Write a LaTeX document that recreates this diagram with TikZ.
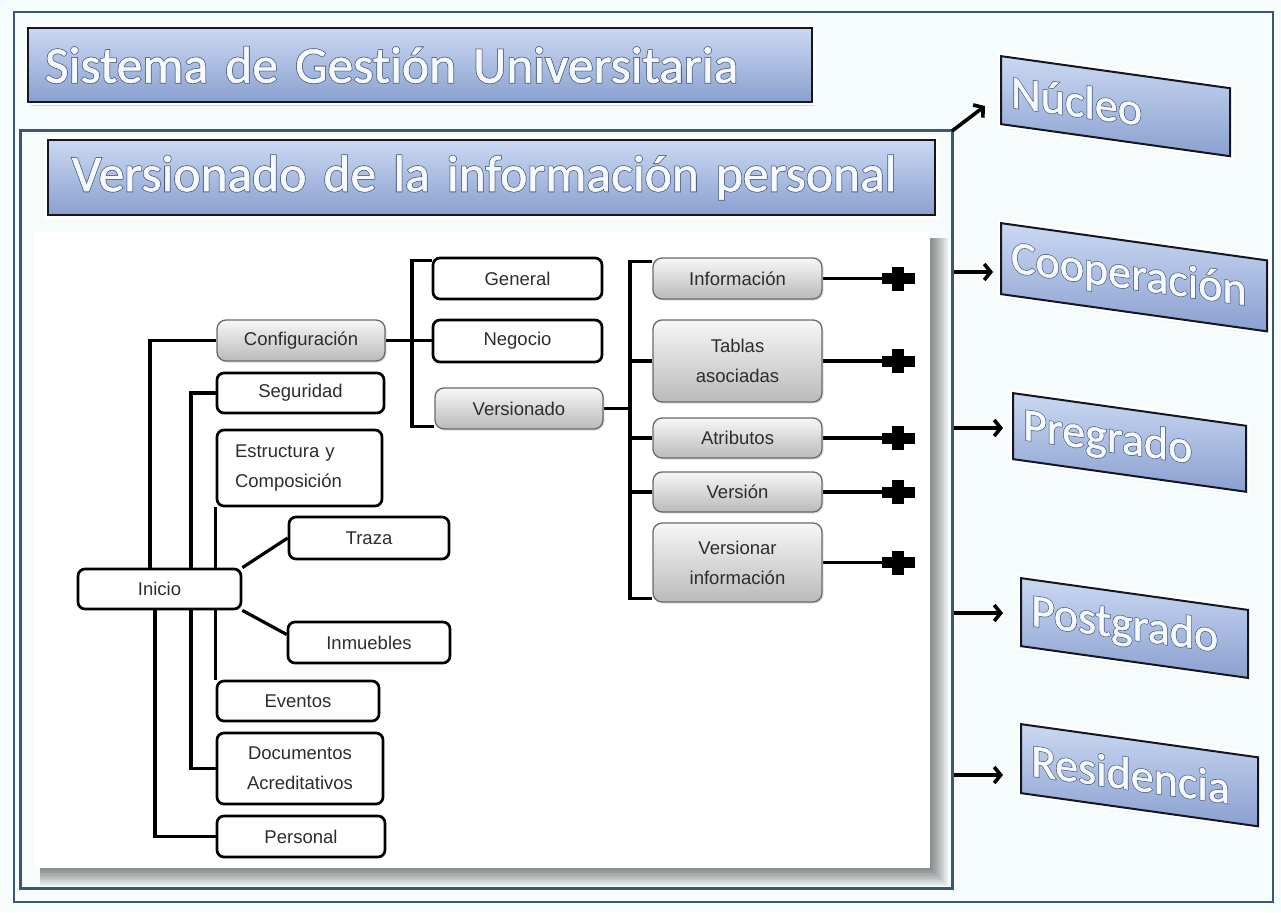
\documentclass[tikz,border=0pt]{standalone}
\usepackage{fontspec}
\setmainfont{Liberation Sans}
\newfontfamily\waO[FakeBold=4,Ligatures=NoCommon]{Carlito}
\newfontfamily\waI[FakeBold=1,Ligatures=NoCommon]{Carlito}
\usetikzlibrary{shadows,arrows.meta,calc}
\definecolor{framec}{RGB}{58,86,120}
\definecolor{pagebg}{RGB}{246,251,251}
\definecolor{outl}{RGB}{78,95,128}
\definecolor{wfill}{RGB}{246,249,254}
\definecolor{btop}{RGB}{202,216,242}
\definecolor{bbot}{RGB}{138,160,208}
\definecolor{bedge}{RGB}{20,22,34}
\definecolor{tgray}{RGB}{45,45,45}
\definecolor{gtop}{RGB}{247,247,247}
\definecolor{gbot}{RGB}{186,186,186}
\definecolor{gedge}{RGB}{105,105,105}
\newcommand\outlined[1]{\leavevmode\rlap{\waO\color{outl}#1}{\waI\color{wfill}#1}}
\pgfdeclarelayer{bg}
\pgfdeclarelayer{conn}
\pgfsetlayers{bg,conn,main}
\begin{document}
\begin{tikzpicture}[x=1pt,y=-1pt,
  sz/.style 2 args={minimum width=#1pt,minimum height=#2pt},
  tree/.style={font=\fontsize{18.5}{30}\selectfont, text=tgray, align=center, inner sep=0pt},
  wbox/.style={tree, draw=black, line width=2.7pt, rounded corners=7pt, fill=white},
  gbox/.style={tree, draw=gedge, line width=1.3pt, rounded corners=9pt, top color=gtop, bottom color=gbot,
     drop shadow={shadow xshift=1.5pt,shadow yshift=-1.5pt,opacity=0.25}},
  conn/.style={line width=3.2pt, draw=black},
  tbox/.style={draw=bedge, line width=2pt, top color=btop, bottom color=bbot, inner ysep=0pt,
     drop shadow={shadow xshift=3pt,shadow yshift=-4pt,opacity=0.3},
     preaction={draw=white,line width=7pt}, align=left},
  arr/.style={line width=3.6pt, draw=black, -{Straight Barb[length=6.5pt,width=16pt]}},
  plus/.pic={\fill (-16.5,-5.5) rectangle (16.5,5.5); \fill (-6,-12) rectangle (6,12);}
]
\useasboundingbox (0,0) rectangle (1281,912);
\begin{pgfonlayer}{bg}
  \fill[pagebg] (0,0) rectangle (1281,912);
  \draw[framec, line width=2.5pt] (14,12) rectangle (1273,902);
  \draw[framec, line width=3pt] (20,131) rectangle (952,888);
  \foreach \i in {0,...,11}
    \fill[black, opacity=0.045] (40,238) rectangle (948-1.5*\i, 886-1.5*\i);
  \fill[white] (35,232) rectangle (930,868);
\end{pgfonlayer}

% titles
\node[tbox, sz={784}{74}, inner xsep=17pt, text width=750pt,
      font=\fontsize{51.5}{55}\selectfont] (t1) at (420,65) {\outlined{Sistema de Gestión Universitaria}};
\node[tbox, sz={887}{75}, inner xsep=24pt, text width=839pt,
      font=\fontsize{51.5}{55}\selectfont] (t2) at (491.5,177.5) {\outlined{Versionado de la información personal}};

% tree nodes
\node[wbox, sz={169}{41}] (general) at (517.5,278.5) {General};
\node[wbox, sz={169}{42}] (negocio) at (517.5,341) {Negocio};
\node[gbox, sz={168}{41}] (conf) at (301,340.5) {Configuración};
\node[gbox, sz={168}{41}] (versionado) at (519,408.5) {Versionado};
\node[wbox, sz={167}{40}] (seg) at (300.5,393) {Seguridad};
\node[wbox, sz={165}{76}, text width=129pt, align=left, inner xsep=18pt] (estr) at (299.5,468) {Estructura y\\Composición};
\node[wbox, sz={160}{42}] (traza) at (369,538) {Traza};
\node[wbox, sz={163}{40}] (inicio) at (159.5,589) {Inicio};
\node[wbox, sz={162}{41}] (inmu) at (369,642.5) {Inmuebles};
\node[wbox, sz={162}{40}] (eventos) at (298,701) {Eventos};
\node[wbox, sz={166}{71}] (docs) at (300,768.5) {Documentos\\Acreditativos};
\node[wbox, sz={168}{41}] (personal) at (301,836.5) {Personal};

\node[gbox, sz={169}{41}] (info) at (737.5,278.5) {Información};
\node[gbox, sz={169}{82}] (tablas) at (737.5,361) {Tablas\\asociadas};
\node[gbox, sz={169}{40}] (atrib) at (737.5,438) {Atributos};
\node[gbox, sz={169}{40}] (version) at (737.5,492) {Versión};
\node[gbox, sz={169}{79}] (versionar) at (737.5,562.5) {Versionar\\información};

% bus coordinates
\coordinate (busA) at (150,0);
\coordinate (busB) at (191,0);
\coordinate (busC) at (155,0);
\coordinate (busD) at (412,0);
\coordinate (busE) at (630,0);
\coordinate (pX) at (898,0);
\coordinate (gTop) at ($(general.north west)+(0,4)$);
\coordinate (vBot) at ($(versionado.south west)+(0,-3)$);
\coordinate (iTop) at ($(info.north west)+(0,4)$);
\coordinate (vrBot) at ($(versionar.south west)+(0,-4)$);
\coordinate (p1) at (info.east -| pX);
\coordinate (p2) at (tablas.east -| pX);
\coordinate (p3) at (atrib.east -| pX);
\coordinate (p4) at (version.east -| pX);
\coordinate (p5) at (versionar.east -| pX);

\begin{pgfonlayer}{conn}
  \draw[conn] (inicio.north -| busA) |- (conf.west);
  \draw[conn] (inicio.north -| busB) |- (seg.west);
  \draw[conn] (inicio.north -| estr.south west) -- (estr.south west);
  \draw[conn] (inicio.north east) -- (traza.west);
  \draw[conn] (inicio.south east) -- ([yshift=8pt]inmu.west);
  \draw[conn] (inicio.south -| eventos.north west) -- (eventos.north west);
  \draw[conn] (inicio.south -| busB) |- (docs.west);
  \draw[conn] (inicio.south -| busC) |- (personal.west);
  \draw[conn] (conf.east) -- (conf.east -| negocio.west);
  \draw[conn] (gTop) -| (busD |- vBot) -- (vBot);
  \draw[conn] (versionado.east) -- (versionado.east -| busE);
  \draw[conn] (iTop) -| (busE |- vrBot) -- (vrBot);
  \draw[conn] (busE |- tablas.west) -- (tablas.west);
  \draw[conn] (busE |- atrib.west) -- (atrib.west);
  \draw[conn] (busE |- version.west) -- (version.west);
  \draw[conn] (info.east) -- (p1);
  \draw[conn] (tablas.east) -- (p2);
  \draw[conn] (atrib.east) -- (p3);
  \draw[conn] (version.east) -- (p4);
  \draw[conn] (versionar.east) -- (p5);
\end{pgfonlayer}
\foreach \p in {p1,p2,p3,p4,p5} \pic at (\p) {plus};

% right slanted boxes
\tikzset{rbox/.style={tbox, transform shape, anchor=north west, inner xsep=10pt,
   font=\fontsize{46}{50}\selectfont}}
\begin{scope}[shift={(1000,55)}, yslant=-0.14]
  \node[rbox, sz={229}{68}, text width=209pt] (nucleo) at (0,0) {\outlined{Núcleo}};
\end{scope}
\begin{scope}[shift={(1000,222)}, yslant=-0.14]
  \node[rbox, sz={266}{71}, text width=246pt] (coop) at (0,0) {\outlined{Cooperación}};
\end{scope}
\begin{scope}[shift={(1012,392)}, yslant=-0.14]
  \node[rbox, sz={233}{66}, text width=213pt] (pre) at (0,0) {\outlined{Pregrado}};
\end{scope}
\begin{scope}[shift={(1020,577)}, yslant=-0.14]
  \node[rbox, sz={227}{68}, text width=207pt] (post) at (0,0) {\outlined{Postgrado}};
\end{scope}
\begin{scope}[shift={(1020,723)}, yslant=-0.14]
  \node[rbox, sz={237}{69}, text width=217pt] (resi) at (0,0) {\outlined{Residencia}};
\end{scope}

% arrows
\coordinate (fTR) at (952,131);
\coordinate (nucTip) at (985,106);
\coordinate (a2) at (954,272);
\coordinate (a3) at (954,428);
\coordinate (a4) at (954,613);
\coordinate (a5) at (954,775);
\draw[arr] (fTR) -- (nucTip);
\draw[arr, shorten >=7pt] (a2) -- (coop.west |- a2);
\draw[arr, shorten >=9pt] (a3) -- (pre.west |- a3);
\draw[arr, shorten >=17pt] (a4) -- (post.west |- a4);
\draw[arr, shorten >=17pt] (a5) -- (resi.west |- a5);
\end{tikzpicture}
\end{document}
